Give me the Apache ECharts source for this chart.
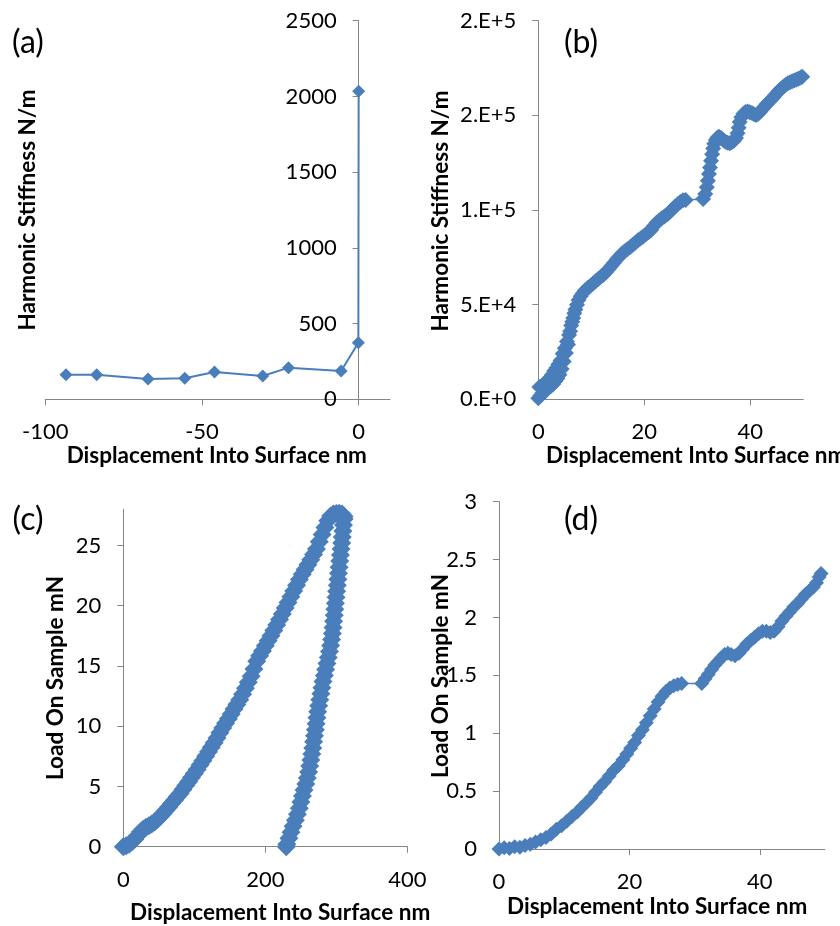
<!DOCTYPE html>
<html>
<head>
<meta charset="utf-8">
<script src="https://cdn.jsdelivr.net/npm/echarts@6/dist/echarts.min.js"></script>
<style>
html,body{margin:0;padding:0;background:#fff;}
#chart{width:840px;height:926px;}
</style>
</head>
<body>
<div id="chart"></div>
<script>
// ---------- Panel (a): Harmonic Stiffness vs displacement (pre-contact) ----------
const aX = [-93.4, -83.6, -67.2, -55.5, -46.0, -30.6, -22.4, -5.6, -0.1, 0];
const aY = [162, 162, 134, 139, 180, 154, 209, 187, 374, 2034];
const aXTicks = [-100, -50, 0];

// ---------- Panel (b): Harmonic Stiffness vs displacement ----------
const bX = [0,0.2,0.4,0.6,0.8,1.0,1.2,1.4,1.6,1.8,2.0,2.2,2.4,2.6,2.8,3.0,3.2,3.4,3.6,3.8,4.0,4.2,4.4,4.6,4.8,5.0,5.2,5.4,5.6,5.8,6.0,6.2,6.4,6.6,6.8,7.0,7.3,7.6,8.0,8.4,8.8,9.3,9.8,10.3,10.8,11.3,11.8,12.3,12.8,13.3,13.8,14.3,14.8,15.3,15.8,16.3,16.8,17.3,17.8,18.3,18.8,19.3,19.8,20.3,20.8,21.3,21.8,22.3,22.8,23.3,23.8,24.3,24.8,25.3,25.8,26.3,26.8,27.3,27.8,31.1,31.5,31.8,32.0,32.2,32.4,32.6,32.8,33.0,33.2,33.5,33.8,34.1,34.5,34.9,35.3,35.7,36.1,36.5,36.9,37.3,37.6,37.8,38.0,38.3,38.7,39.1,39.5,39.9,40.3,40.7,41.1,41.5,41.9,42.3,42.7,43.1,43.5,43.9,44.3,44.7,45.1,45.5,45.9,46.3,46.7,47.1,47.5,47.9,48.3,48.7,49.1,49.5,49.8];
const bY = [500,6500,2000,7000,3500,8000,4000,9000,5000,10000,6500,11500,7000,13000,8000,15000,9500,16500,11000,18500,13000,20500,16000,24000,20000,27000,24500,30500,29000,34000,36000,39000,41000,43000,45500,47500,50000,52500,54500,56000,57500,58800,59800,61000,62300,63500,64700,65800,67200,68800,70500,72200,74000,75500,77000,78200,79300,80300,81500,82700,84000,85000,86000,87200,88300,89500,91500,93200,94500,95600,96600,97600,99000,100400,101800,103000,104200,105100,105300,105800,108500,112000,115500,119000,122500,126000,129500,132500,135000,137000,138300,138700,138000,137000,136000,135500,135300,135800,136600,138000,140500,143500,146500,149000,150800,151800,152000,151700,151200,150600,150200,150800,152000,153300,154700,156000,157200,158300,159300,160700,162000,163200,164300,165300,166200,166900,167500,168000,168400,168900,169400,170000,170400];
const bXTicks = [0, 20, 40];
const bYTickLabels = ['0.E+0', '5.E+4', '1.E+5', '2.E+5', '2.E+5'];

// ---------- Panel (c): Load on sample, full load-unload cycle ----------
const cX = [0,4,8,12,16,20,24,28,32,36,40,44,48,52,56,60,64,68,72,76,80,84,88,92,96,100,104,108,112,116,120,124,128,132,136,140,144,148,152,156,160,164,168,172,176,180,184,188,192,196,200,204,208,212,216,220,224,228,232,236,240,244,248,252,256,260,264,268,272,276,280,284,288,292,296,300,304,308,311,
  311,310.1,309.3,308.4,307.6,306.7,305.8,304.9,304.0,303.1,302.2,301.4,300.5,299.7,298.8,297.9,297.1,296.2,295.4,294.5,293.3,292.0,290.4,288.7,286.8,285.0,283.2,281.3,279.7,278.3,276.7,275.2,273.8,272.7,271.6,270.5,269.3,268.1,266.8,265.5,264.1,262.6,261.0,259.2,257.1,254.5,252.3,250.1,247.9,245.3,242.4,239.1,236.2,233.3,230.3,229.5];
const cY = [0,0.08,0.2,0.4,0.62,0.9,1.22,1.45,1.62,1.74,1.88,2.05,2.25,2.5,2.76,3.02,3.3,3.58,3.86,4.14,4.42,4.75,5.08,5.4,5.74,6.07,6.4,6.77,7.13,7.5,7.87,8.25,8.63,9.03,9.45,9.85,10.25,10.62,11.02,11.42,11.8,12.2,12.65,13.15,13.65,14.15,14.75,15.4,15.85,16.25,16.67,17.1,17.5,17.94,18.4,18.85,19.32,19.8,20.27,20.75,21.22,21.7,22.17,22.6,23.0,23.4,23.82,24.24,24.7,25.3,25.9,26.5,27.05,27.45,27.6,27.65,27.68,27.6,27.4,
  27.2,26.7,26.2,25.7,25.2,24.7,24.2,23.7,23.2,22.7,22.2,21.7,21.2,20.7,20.2,19.7,19.2,18.7,18.2,17.7,17.2,16.7,16.2,15.7,15.2,14.7,14.2,13.7,13.2,12.7,12.2,11.7,11.2,10.7,10.2,9.7,9.2,8.7,8.2,7.7,7.2,6.7,6.2,5.7,5.2,4.7,4.2,3.7,3.2,2.7,2.2,1.7,1.2,0.7,0.2,0];
const cXTicks = [0, 200, 400];
const cYTicks = [0, 5, 10, 15, 20, 25];

// ---------- Panel (d): Load on sample, first 50 nm ----------
const dX = [0,0.8,1.6,2.4,3.2,4.0,4.8,5.6,6.4,7.2,8.0,8.8,9.6,10.4,11.2,12.0,12.7,13.4,14.1,14.8,15.5,16.2,16.9,17.6,18.3,19.0,19.6,20.2,20.8,21.4,22.0,22.6,23.2,23.8,24.4,25.0,25.6,26.2,26.8,27.4,28.0,31.1,31.6,32.1,32.6,33.1,33.6,34.1,34.6,35.1,35.6,36.2,36.8,37.4,38.0,38.6,39.2,39.8,40.4,41.0,41.6,42.2,42.8,43.4,44.0,44.6,45.2,45.8,46.4,47.0,47.6,48.2,48.7,49.1,49.4];
const dY = [0,0.01,0.005,0.02,0.015,0.03,0.04,0.06,0.08,0.1,0.13,0.17,0.2,0.24,0.28,0.32,0.36,0.4,0.44,0.49,0.54,0.58,0.63,0.68,0.72,0.77,0.82,0.87,0.92,0.98,1.03,1.09,1.15,1.21,1.27,1.32,1.36,1.39,1.41,1.42,1.43,1.43,1.47,1.51,1.55,1.59,1.62,1.65,1.68,1.69,1.68,1.67,1.69,1.73,1.77,1.8,1.83,1.86,1.88,1.88,1.87,1.88,1.92,1.97,2.01,2.05,2.09,2.12,2.16,2.2,2.23,2.26,2.3,2.35,2.38];
const dXTicks = [0, 20, 40];

const panelLabels = ['(a)', '(b)', '(c)', '(d)'];
const xTitle = 'Displacement Into Surface nm';
const yTitleStiff = 'Harmonic Stiffness N/m';
const yTitleLoad = 'Load On Sample mN';

// ---------- styling ----------
const FONT = 'Lato';
const BLUE = '#4a7ebb';
const AXIS_GREY = '#868686';
const zip = (xs, ys) => xs.map((x, i) => [x, ys[i]]);

function xAxisDef(gridIndex, min, max, ticks) {
  return {
    type: 'value', gridIndex, min, max,
    splitLine: {show: false},
    axisLine: {show: true, onZero: false, lineStyle: {color: AXIS_GREY, width: 1}},
    axisTick: {show: true, length: 6, lineStyle: {color: AXIS_GREY}, customValues: ticks},
    axisLabel: {customValues: ticks, color: '#000', fontFamily: FONT, fontSize: 22, margin: 22}
  };
}
function yAxisDef(gridIndex, min, max, interval, ticks, formatter, offset) {
  const d = {
    type: 'value', gridIndex, min, max, interval,
    offset: offset || 0,
    splitLine: {show: false},
    axisLine: {show: true, onZero: false, lineStyle: {color: AXIS_GREY, width: 1}},
    axisTick: {show: true, length: 6, lineStyle: {color: AXIS_GREY}},
    axisLabel: {color: '#000', fontFamily: FONT, fontSize: 22, margin: 22,
                formatter: formatter || (v => String(v))}
  };
  if (ticks) { d.axisTick.customValues = ticks; d.axisLabel.customValues = ticks; }
  return d;
}
function seriesDef(idx, data, size, lw) {
  return {
    type: 'line', xAxisIndex: idx, yAxisIndex: idx, data,
    symbol: 'diamond', symbolSize: size, showSymbol: true,
    itemStyle: {color: BLUE}, lineStyle: {color: BLUE, width: lw},
    emphasis: {disabled: true}, animation: false
  };
}
function txt(text, x, y, opts) {
  return Object.assign({
    type: 'text', x, y,
    style: Object.assign({text, fill: '#000', font: '20px ' + FONT, textAlign: 'center', textVerticalAlign: 'middle'}, opts && opts.style)
  }, opts && opts.el);
}

const chart = echarts.init(document.getElementById('chart'), null, {renderer: 'canvas'});
const titleFont = 'bold 22.5px ' + FONT;
const panelFont = '32px ' + FONT;

// grid (a): the y axis crosses the x axis at x = 0 (pixel 359.3, grid left 45.3)
const aGridLeft = 45.3, aGridWidth = 344.7, aXMin = -100, aXMax = 10;
const aYOffset = -(0 - aXMin) / (aXMax - aXMin) * aGridWidth;

chart.setOption({
  animation: false,
  backgroundColor: '#fff',
  textStyle: {fontFamily: FONT},
  grid: [
    {left: aGridLeft, top: 20.7, width: aGridWidth, height: 378.6},
    {left: 538.3, top: 20.7, width: 265, height: 378.6},
    {left: 123.3, top: 509.3, width: 284, height: 337.4},
    {left: 499, top: 501.7, width: 326, height: 347.3}
  ],
  xAxis: [
    xAxisDef(0, aXMin, aXMax, aXTicks),
    xAxisDef(1, 0, 50, bXTicks),
    xAxisDef(2, 0, 400, cXTicks),
    xAxisDef(3, 0, 50, dXTicks)
  ],
  yAxis: [
    yAxisDef(0, 0, 2500, 500, null, null, aYOffset),
    yAxisDef(1, 0, 200000, 50000, null, v => bYTickLabels[Math.round(v / 50000)]),
    yAxisDef(2, 0, 28, null, cYTicks),
    yAxisDef(3, 0, 3, 0.5)
  ],
  series: [
    seriesDef(0, zip(aX, aY), 13, 2),
    seriesDef(1, zip(bX, bY), 16, 1.5),
    seriesDef(2, zip(cX, cY), 19, 1.5),
    seriesDef(3, zip(dX, dY), 15, 1.5)
  ],
  graphic: [
    txt(panelLabels[0], 28, 43, {style: {font: panelFont}}),
    txt(panelLabels[1], 581, 43, {style: {font: panelFont}}),
    txt(panelLabels[2], 28, 520, {style: {font: panelFont}}),
    txt(panelLabels[3], 581, 520, {style: {font: panelFont}}),
    txt(yTitleStiff, 28, 210, {style: {font: titleFont}, el: {rotation: Math.PI / 2}}),
    txt(yTitleStiff, 441, 211, {style: {font: titleFont}, el: {rotation: Math.PI / 2}}),
    txt(yTitleLoad, 55.5, 678, {style: {font: titleFont}, el: {rotation: Math.PI / 2}}),
    txt(yTitleLoad, 441, 676, {style: {font: titleFont}, el: {rotation: Math.PI / 2}}),
    txt(xTitle, 66.7, 456, {style: {font: titleFont, textAlign: 'left'}}),
    txt(xTitle, 546, 456, {style: {font: titleFont, textAlign: 'left'}}),
    txt(xTitle, 130, 913, {style: {font: titleFont, textAlign: 'left'}}),
    txt(xTitle, 507, 906.7, {style: {font: titleFont, textAlign: 'left'}})
  ]
});
</script>
</body>
</html>
